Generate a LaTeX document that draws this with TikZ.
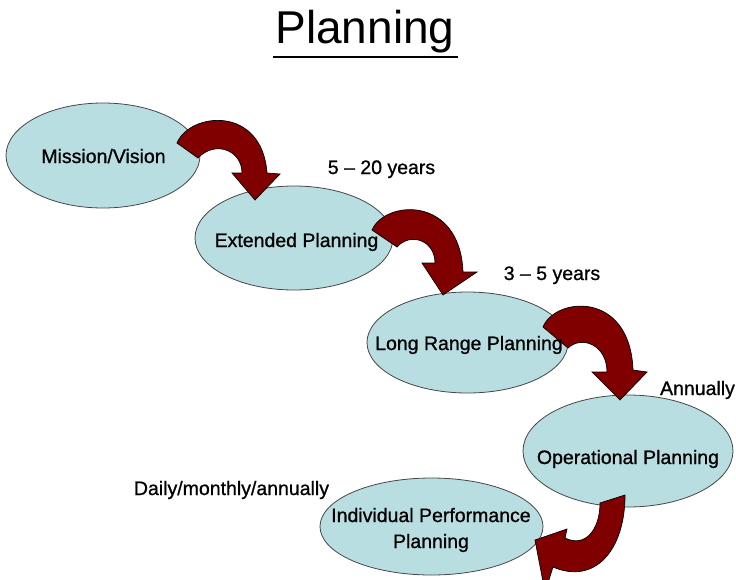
\documentclass[tikz,border=0pt]{standalone}
\usepackage{fontspec}
\setmainfont{Liberation Sans}
\newfontfamily\lblfont{Liberation Sans}[FakeBold=0.9]
\usetikzlibrary{shapes.geometric}
\definecolor{bubblefill}{RGB}{185,222,226}
\definecolor{bubbleline}{RGB}{70,70,70}
\definecolor{arrowred}{RGB}{128,0,0}
\tikzset{
  bubble/.style={ellipse,draw=bubbleline,line width=0.8pt,fill=bubblefill,inner sep=0pt},
  lbl/.style={font=\lblfont\fontsize{19.5}{26}\selectfont,inner sep=0pt,anchor=base},
  bigarrow/.style={fill=arrowred,draw=black,line width=0.7pt,line join=miter}
}
\begin{document}
\begin{tikzpicture}[x=1pt,y=-1pt]
\useasboundingbox (0,0) rectangle (736,579);
\clip (0,0) rectangle (736,579);
% title
\node[inner sep=0pt,anchor=base,font=\fontsize{46}{50}\selectfont] (title) at (365,43) {Planning};
\draw[line width=2pt] (273,57) -- (458,57);
% ellipses
\node[bubble,minimum width=194pt,minimum height=105pt] (mv) at (103,155.5) {};
\node[bubble,minimum width=198pt,minimum height=104pt] (ext) at (294,238) {};
\node[bubble,minimum width=201pt,minimum height=101pt] (lr) at (467.5,342.5) {};
\node[bubble,minimum width=210pt,minimum height=112pt] (op) at (628,451) {};
\node[bubble,minimum width=223pt,minimum height=97pt] (ind) at (431.5,526.5) {};
% curved arrows
\draw[bigarrow] (177,143) .. controls (190,112) and (262,105) .. (267,173) -- (280,174) -- (255,200) -- (232,173) -- (242,173) .. controls (242,150) and (215,140) .. (198,158) -- cycle;
\draw[bigarrow] (372,230) .. controls (385,200) and (460,195) .. (463,272) -- (477,272) -- (443,295) -- (422,263) -- (435,263) .. controls (435,240) and (410,232) .. (397,247) -- cycle;
\draw[bigarrow] (543,327) .. controls (555,297) and (630,290) .. (633,370) -- (647,372) -- (620,400) -- (592,372) -- (607,372) .. controls (607,345) and (582,335) .. (568,348) -- cycle;
\draw[bigarrow] (600,503) -- (625,495) .. controls (625,550) and (595,585) .. (553,567) -- (545,592) -- (535,540) -- (567,529) -- (565,538) .. controls (585,548) and (600,530) .. (600,503) -- cycle;
% texts
\node[lbl] (mvt) at (103.5,163) {Mission/Vision};
\node[lbl] (extt) at (296.5,247) {Extended Planning};
\node[lbl] (lrt) at (469,350) {Long Range Planning};
\node[lbl] (opt) at (628,464) {Operational Planning};
\node[lbl] (indt1) at (431,522) {Individual Performance};
\node[lbl] (indt2) at (431,548) {Planning};
\node[lbl] (l1) at (381.5,174) {5 – 20 years};
\node[lbl] (l2) at (552,280) {3 – 5 years};
\node[lbl] (l3) at (697.5,395) {Annually};
\node[lbl] (l4) at (231.5,495) {Daily/monthly/annually};
\end{tikzpicture}
\end{document}
